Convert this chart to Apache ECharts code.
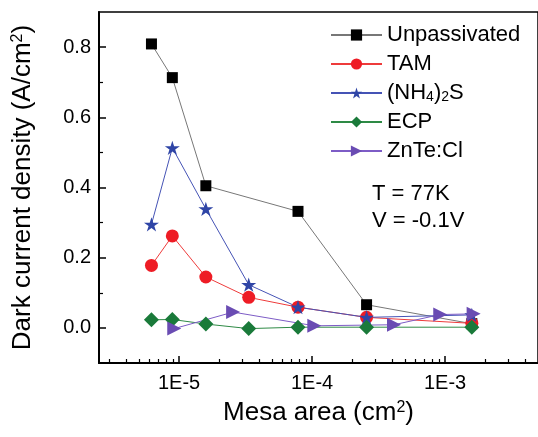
<!DOCTYPE html>
<html>
<head>
<meta charset="UTF-8">
<script src="https://cdn.jsdelivr.net/npm/echarts@6/dist/echarts.min.js"></script>
<style>
    html, body { margin: 0; padding: 0; background: #fff; }
    #chart { width: 538px; height: 437px; }
</style>
</head>
<body>
<div id="chart"></div>
<script>
// mesa areas (cm2)
var areas = [6.2e-6, 8.9e-6, 1.59e-5, 3.34e-5, 7.84e-5, 2.57e-4, 1.59e-3];
var areasUnpass = [6.2e-6, 8.9e-6, 1.59e-5, 7.84e-5, 2.57e-4, 1.59e-3];
var areasZnTe = [9.2e-6, 2.55e-5, 1.04e-4, 4.13e-4, 9.2e-4, 1.64e-3];

// dark current density (A/cm2)
var unpassivated = [0.809, 0.713, 0.405, 0.332, 0.066, 0.012];
var tam = [0.178, 0.262, 0.145, 0.087, 0.059, 0.030, 0.013];
var nh4s = [0.295, 0.513, 0.339, 0.123, 0.059, 0.030, 0.037];
var ecp = [0.023, 0.024, 0.011, -0.002, 0.002, 0.002, 0.002];
var znte = [-0.002, 0.045, 0.006, 0.009, 0.038, 0.040];

var yTicks = [0, 0.2, 0.4, 0.6, 0.8];
var yMinorTicks = [0.1, 0.3, 0.5, 0.7];
var xMinorTicks = [3e-6, 4e-6, 5e-6, 6e-6, 7e-6, 8e-6, 9e-6,
    2e-5, 3e-5, 4e-5, 5e-5, 6e-5, 7e-5, 8e-5, 9e-5,
    2e-4, 3e-4, 4e-4, 5e-4, 6e-4, 7e-4, 8e-4, 9e-4,
    2e-3, 3e-3, 4e-3];

var xMin = 2.5e-6, xMax = 5e-3;
var font = 'Liberation Sans';
var starPath = 'path://M50,0 L61.2,34.5 L97.6,34.5 L68.2,55.9 L79.4,90.5 L50,69.1 L20.6,90.5 L31.8,55.9 L2.4,34.5 L38.8,34.5 Z';

function pts(xs, ys) {
    return xs.map(function (x, i) { return [x, ys[i]]; });
}

var chart = echarts.init(document.getElementById('chart'));

var option = {
    animation: false,
    grid: {
        left: 99, top: 12, right: -2, bottom: 74,
        show: true, borderColor: '#000', borderWidth: 1.5
    },
    legend: {
        orient: 'vertical',
        left: 325, top: 19,
        itemWidth: 51, itemHeight: 14, itemGap: 7,
        data: ['Unpassivated', 'TAM', '(NH4)2S', 'ECP', 'ZnTe:Cl'],
        formatter: function (name) {
            return name === '(NH4)2S' ? '(NH{sub|4}){sub|2}S' : name;
        },
        textStyle: {
            fontFamily: font, fontSize: 22, color: '#000',
            rich: { sub: { fontFamily: font, fontSize: 14, lineHeight: 6, verticalAlign: 'bottom', color: '#000' } }
        }
    },
    xAxis: [{
        type: 'log',
        min: xMin, max: xMax,
        name: 'Mesa area (cm{sup|2})',
        nameLocation: 'middle', nameGap: 37,
        nameTextStyle: {
            fontFamily: font, fontSize: 26, color: '#000',
            rich: { sup: { fontFamily: font, fontSize: 16, lineHeight: 8, verticalAlign: 'top', color: '#000' } }
        },
        axisLine: { onZero: false, lineStyle: { color: '#000', width: 2 } },
        axisTick: { inside: true, length: 7, lineStyle: { color: '#000', width: 1.5 } },
        axisLabel: {
            fontFamily: font, fontSize: 20, color: '#000', margin: 10,
            showMinLabel: false, showMaxLabel: false,
            formatter: function (v) {
                var e = Math.log10(v);
                return Math.abs(e - Math.round(e)) < 1e-6 ? '1E' + Math.round(e) : '';
            }
        },
        splitLine: { show: false }
    }, {
        // helper axis: log minor ticks only
        type: 'value',
        position: 'bottom',
        min: Math.log10(xMin), max: Math.log10(xMax),
        axisLine: { show: false, onZero: false },
        axisTick: { inside: true, length: 4, customValues: xMinorTicks.map(Math.log10), lineStyle: { color: '#000', width: 1.2 } },
        axisLabel: { show: false },
        splitLine: { show: false }
    }],
    yAxis: [{
        type: 'value',
        min: -0.1, max: 0.9,
        name: 'Dark current density (A/cm{sup|2})',
        nameLocation: 'middle', nameGap: 63,
        nameTextStyle: {
            fontFamily: font, fontSize: 26, color: '#000',
            rich: { sup: { fontFamily: font, fontSize: 16, lineHeight: 8, verticalAlign: 'top', color: '#000' } }
        },
        axisLine: { show: true, onZero: false, lineStyle: { color: '#000', width: 2 } },
        axisTick: { show: true, inside: true, length: 7, customValues: yTicks, lineStyle: { color: '#000', width: 1.5 } },
        axisLabel: {
            fontFamily: font, fontSize: 20, color: '#000', margin: 8,
            customValues: yTicks,
            formatter: function (v) { return v.toFixed(1); }
        },
        splitLine: { show: false }
    }, {
        // helper axis: minor ticks only
        type: 'value',
        position: 'left',
        min: -0.1, max: 0.9,
        axisLine: { show: false, onZero: false },
        axisTick: { show: true, inside: true, length: 4, customValues: yMinorTicks, lineStyle: { color: '#000', width: 1.2 } },
        axisLabel: { show: false },
        splitLine: { show: false }
    }],
    series: [{
        name: 'Unpassivated', type: 'line',
        data: pts(areasUnpass, unpassivated),
        symbol: 'rect', symbolSize: 11,
        itemStyle: { color: '#000' },
        lineStyle: { color: '#777', width: 1 }
    }, {
        name: 'TAM', type: 'line',
        data: pts(areas, tam),
        symbol: 'circle', symbolSize: 13,
        itemStyle: { color: '#EE1C25' },
        lineStyle: { color: '#EE3B3B', width: 1 }
    }, {
        name: '(NH4)2S', type: 'line',
        data: pts(areas, nh4s),
        symbol: starPath, symbolSize: 15, symbolKeepAspect: true,
        itemStyle: { color: '#2F45A6' },
        lineStyle: { color: '#4553B5', width: 1 }
    }, {
        name: 'ECP', type: 'line',
        data: pts(areas, ecp),
        symbol: 'diamond', symbolSize: [15, 15],
        itemStyle: { color: '#1A7A3A' },
        lineStyle: { color: '#2E8A45', width: 1 }
    }, {
        name: 'ZnTe:Cl', type: 'line',
        data: pts(areasZnTe, znte),
        symbol: 'triangle', symbolRotate: -90, symbolSize: 14,
        itemStyle: { color: '#6A4CB3' },
        lineStyle: { color: '#7D5CC6', width: 1 }
    }],
    graphic: [{
        type: 'text', left: 372, top: 180,
        style: {
            text: 'T = 77K\nV = -0.1V',
            font: '22px "Liberation Sans"', lineHeight: 27, fill: '#000'
        }
    }]
};

chart.setOption(option);
</script>
</body>
</html>
